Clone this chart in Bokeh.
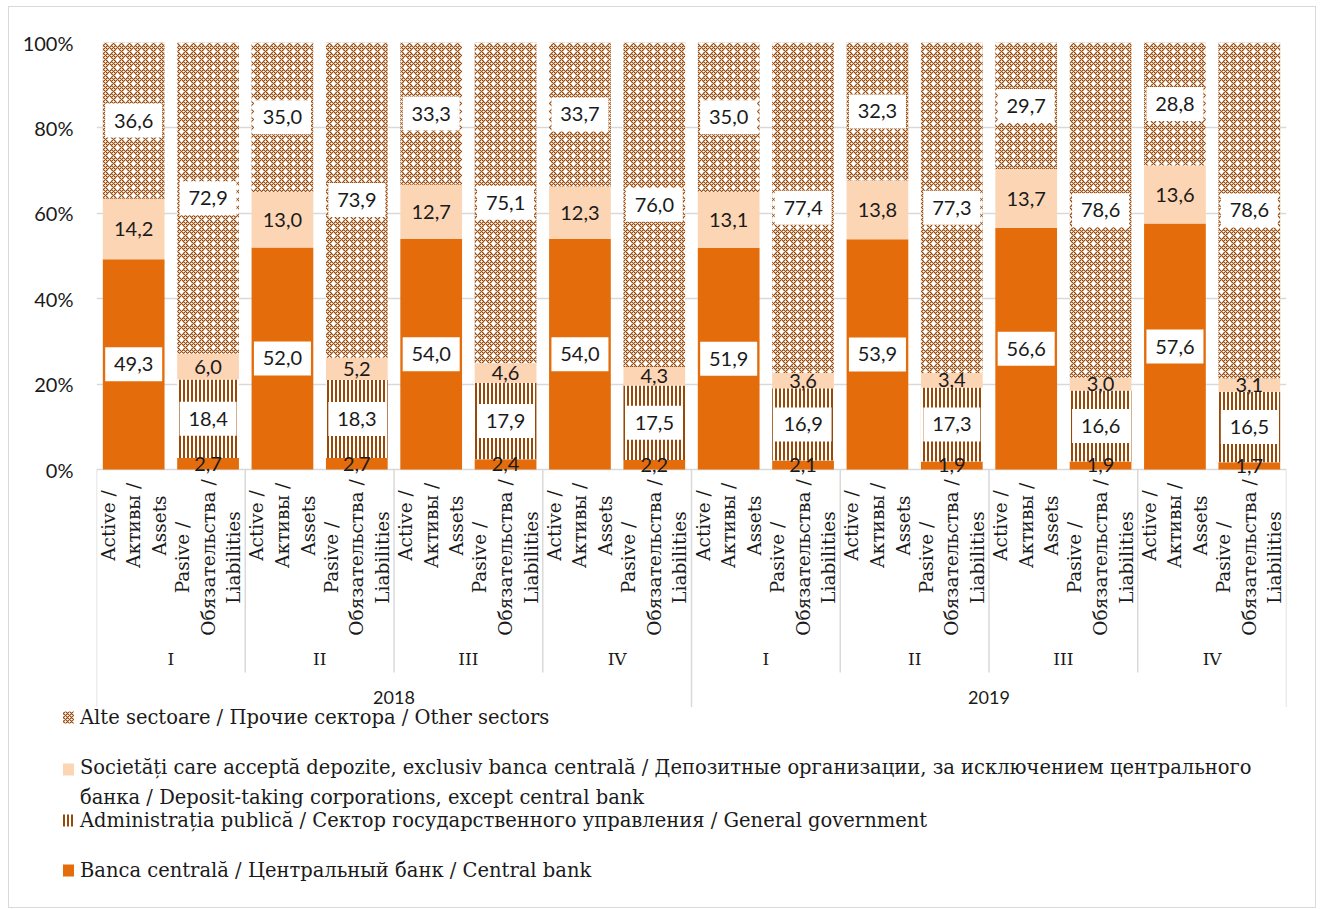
import math
from bokeh.plotting import figure
from bokeh.layouts import column
from bokeh.models import (ColumnDataSource, Range1d, FixedTicker,
                          NumeralTickFormatter)
from bokeh.transform import stack
from bokeh.core.properties import value
from bokeh.embed import file_html
from bokeh.resources import INLINE

# ---------------- data ----------------
years = ["2018", "2019"]
quarters = ["I", "II", "III", "IV"]
bar_types = ["Active /\nАктивы /\nAssets", "Pasive /\nОбязательства /\nLiabilities"]

series_names = [
    "Banca centrală / Центральный банк / Central bank",
    "Administrația publică / Сектор государственного управления / General government",
    "Societăți care acceptă depozite, exclusiv banca centrală / Депозитные организации, за исключением центрального\nбанка / Deposit-taking corporations, except central bank",
    "Alte sectoare / Прочие сектора / Other sectors",
]

# order of bars: 2018 I Assets, 2018 I Liabilities, 2018 II Assets, ...
central_bank = [49.3, 2.7, 52.0, 2.7, 54.0, 2.4, 54.0, 2.2,
                51.9, 2.1, 53.9, 1.9, 56.6, 1.9, 57.6, 1.7]
general_government = [0.0, 18.4, 0.0, 18.3, 0.0, 17.9, 0.0, 17.5,
                      0.0, 16.9, 0.0, 17.3, 0.0, 16.6, 0.0, 16.5]
deposit_taking = [14.2, 6.0, 13.0, 5.2, 12.7, 4.6, 12.3, 4.3,
                  13.1, 3.6, 13.8, 3.4, 13.7, 3.0, 13.6, 3.1]
other_sectors = [36.6, 72.9, 35.0, 73.9, 33.3, 75.1, 33.7, 76.0,
                 35.0, 77.4, 32.3, 77.3, 29.7, 78.6, 28.8, 78.6]

series_values = [central_bank, general_government, deposit_taking, other_sectors]

# ---------------- style / layout ----------------
ORANGE = "#E46C0A"
PEACH = "#FCD5B5"
BROWN = "#984807"
GRID = "#d9d9d9"
TXT = "#1a1a1a"
SERIF = "DejaVu Serif"
SANS = "Lato"

ZERO_PX = 469.0      # page y of 0 %
PX_PER_UNIT = 427.0  # pixels for 100 %
ORIGIN_Y = 7         # page y where the first figure starts


def px_to_y(page_y):
    return (ZERO_PX - page_y) / PX_PER_UNIT


fill_colors = [ORANGE, "white", PEACH, "white"]
hatch_patterns = [None, "|", None, "x"]
hatch_scales = [8, 4, 8, 4]
hatch_weights = [1, 2, 1, 1.2]
DOT_SCALE, DOT_WEIGHT = 8, 1.5   # white dot overlay for "Other sectors"

# ---------------- derived (shares of 100 %) ----------------
n_bars = len(central_bank)
x_pos = [i + 0.5 for i in range(n_bars)]
totals = [sum(s[i] for s in series_values) for i in range(n_bars)]
keys = ["cb", "gg", "dtc", "oth"]
data = {"x": x_pos}
for k, s in zip(keys, series_values):
    data[k] = [s[i] / totals[i] for i in range(n_bars)]
src = ColumnDataSource(data)

# data labels
lab_x, lab_y, lab_t = [], [], []
box_x, box_y = [], []
for i in range(n_bars):
    bottom = 0.0
    for si, s in enumerate(series_values):
        share = s[i] / totals[i]
        if s[i] > 0:
            mid = bottom + share / 2
            lab_x.append(x_pos[i]); lab_y.append(mid)
            lab_t.append(f"{s[i]:.1f}".replace(".", ","))
            if si != 2 and s[i] > 5:
                box_x.append(x_pos[i]); box_y.append(mid)
        bottom += share

# ---------------- main figure ----------------
W = 1306
FRAME_TOP = 42
FRAME_BOTTOM = 707
FRAME_H = FRAME_BOTTOM - FRAME_TOP
MB_TOP = FRAME_TOP - ORIGIN_Y
MB_LEFT = 87
p = figure(width=W, height=MB_TOP + FRAME_H, output_backend="svg", toolbar_location=None,
           x_range=Range1d(0, n_bars),
           y_range=Range1d(px_to_y(FRAME_BOTTOM), px_to_y(FRAME_TOP)),
           x_axis_location=None, min_border_left=MB_LEFT,
           min_border_right=W - MB_LEFT - 1190,
           min_border_top=MB_TOP, min_border_bottom=0)
p.frame_align = False
p.outline_line_color = None
p.background_fill_color = "white"
p.border_fill_color = "white"

ticks = [0, 0.2, 0.4, 0.6, 0.8, 1.0]
p.yaxis.ticker = FixedTicker(ticks=ticks)
p.yaxis.formatter = NumeralTickFormatter(format="0%")
p.yaxis.axis_line_color = None
p.yaxis.major_tick_line_color = None
p.yaxis.minor_tick_line_color = None
p.yaxis.major_tick_out = 0
p.yaxis.major_label_standoff = 23
p.yaxis.major_label_text_font = SANS
p.yaxis.major_label_text_font_size = "20px"
p.yaxis.major_label_text_color = TXT
p.xgrid.visible = False
p.ygrid.ticker = FixedTicker(ticks=ticks)
p.ygrid.bounds = (0, 1)
p.ygrid.grid_line_color = GRID
p.ygrid.grid_line_width = 1.5

p.vbar_stack(keys, x="x", width=0.83, source=src,
             fill_color=fill_colors, line_color=None,
             hatch_pattern=hatch_patterns, hatch_color=BROWN,
             hatch_scale=hatch_scales, hatch_weight=hatch_weights)
# white dot texture on top of the "Other sectors" segments
p.vbar(x="x", width=0.83, bottom=stack(*keys[:3]), top=stack(*keys), source=src,
       fill_alpha=0, line_color=None, hatch_pattern=".", hatch_color="white",
       hatch_scale=DOT_SCALE, hatch_weight=DOT_WEIGHT)

p.rect(x=box_x, y=box_y, width=57, height=34, width_units="screen",
       height_units="screen", fill_color="white", line_color=None)
p.text(x=lab_x, y=lab_y, text=lab_t, text_font=value(SANS), text_font_size="20px",
       text_align="center", text_baseline="middle", text_color=TXT)

# category labels (rotated)
label_center_px = {0: 525, 1: 557}
cat_x, cat_y, cat_t = [], [], []
for i in range(n_bars):
    t = i % len(bar_types)
    cat_x.append(x_pos[i]); cat_y.append(px_to_y(label_center_px[t]))
    cat_t.append(bar_types[t])
p.text(x=cat_x, y=cat_y, text=cat_t, angle=math.pi / 2, text_align="center",
       text_baseline="middle", text_font=value(SERIF), text_font_size="18.5px",
       text_line_height=1.22, text_color=TXT)

per_q = len(bar_types)
per_y = per_q * len(quarters)
q_x, q_t, y_x = [], [], []
for yi, yr in enumerate(years):
    for qi, q in enumerate(quarters):
        q_x.append(yi * per_y + qi * per_q + per_q / 2)
        q_t.append(q)
    y_x.append(yi * per_y + per_y / 2)
p.text(x=q_x, y=[px_to_y(658)] * len(q_x), text=q_t, text_align="center",
       text_baseline="middle", text_font=value(SERIF), text_font_size="17px",
       text_color=TXT)
p.text(x=y_x, y=[px_to_y(697)] * len(y_x), text=years, text_align="center",
       text_baseline="middle", text_font=value(SANS), text_font_size="18px",
       text_color=TXT)

# separators
sep_x, sep_end = [], []
for b in range(0, n_bars + 1, per_q):
    sep_x.append(b)
    sep_end.append(px_to_y(FRAME_BOTTOM) if b % per_y == 0 else px_to_y(672))
p.segment(x0=sep_x, y0=[0] * len(sep_x), x1=sep_x, y1=sep_end,
          line_color=GRID, line_width=1.5)

# ---------------- legend figure ----------------
LH = 200
lg = figure(width=W, height=LH, output_backend="svg", toolbar_location=None,
            x_range=Range1d(0, W), y_range=Range1d(LH, 0),
            x_axis_location=None, y_axis_location=None,
            min_border=0, min_border_left=0, min_border_right=0,
            min_border_top=0, min_border_bottom=0)
lg.frame_align = False
lg.outline_line_color = None
lg.grid.visible = False
lg.background_fill_color = "white"
lg.border_fill_color = "white"

legend_rows = [163, 113, 62, 10]   # row centres for CB, GG, DTC, Other (legend-panel px)
line_gap = 26
LEG_FS = 19.5
for si in range(len(series_names)):
    ry = legend_rows[si]
    lg.rect(x=[59], y=[ry], width=11, height=12, fill_color=fill_colors[si],
            line_color=None, hatch_pattern=hatch_patterns[si], hatch_color=BROWN,
            hatch_scale=hatch_scales[si], hatch_weight=hatch_weights[si])
    nl = series_names[si].count("\n") + 1
    lg.text(x=[70.5], y=[ry + (nl - 1) * line_gap / 2], text=[series_names[si]],
            text_align="left", text_baseline="middle", text_font=value(SERIF),
            text_font_size=f"{LEG_FS}px", text_line_height=line_gap / LEG_FS,
            text_color=TXT)

layout = column(p, lg, spacing=0,
                styles={"border": "1px solid #d9d9d9", "margin-left": "8px",
                        "margin-top": "6px"})

open("out.html", "w").write(file_html(layout, INLINE))
